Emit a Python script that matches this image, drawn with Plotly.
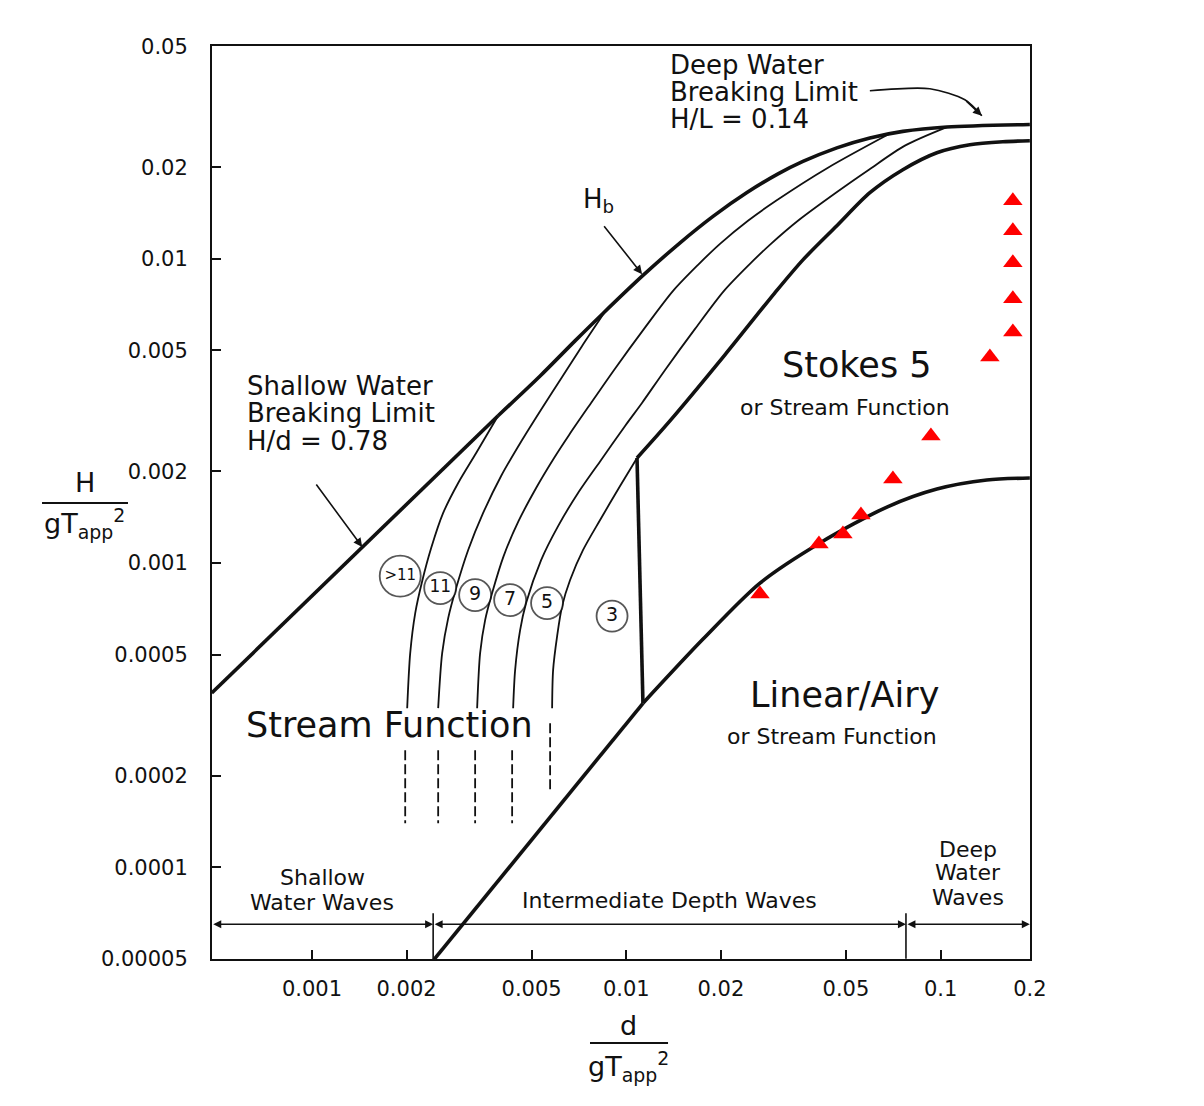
import math
import plotly.graph_objects as go

# ---------------- data ----------------
x_ticks = [0.001, 0.002, 0.005, 0.01, 0.02, 0.05, 0.1, 0.1923]
x_tick_labels = ["0.001", "0.002", "0.005", "0.01", "0.02", "0.05", "0.1", "0.2"]
y_ticks = [0.00005, 0.0001, 0.0002, 0.0005, 0.001, 0.002, 0.005, 0.01, 0.02, 0.05]
y_tick_labels = ["0.00005", "0.0001", "0.0002", "0.0005", "0.001", "0.002",
                 "0.005", "0.01", "0.02", "0.05"]

# shallow water breaking limit H/d = 0.78
shallow_x = [0.00048, 0.00391]
shallow_y = [0.000374, 0.00305]

# breaking height Hb (up to deep water limit H/L = 0.14)
hb_x = [0.00391, 0.00532, 0.00687, 0.00843, 0.0113, 0.01483, 0.01888, 0.02421,
        0.0304, 0.03648, 0.04677, 0.05957, 0.07586, 0.1047, 0.1923]
hb_y = [0.00305, 0.00412, 0.005374, 0.006613, 0.008817, 0.01129, 0.01379, 0.01651,
        0.01901, 0.02089, 0.02316, 0.02496, 0.02624, 0.02713, 0.02765]

# stream function order boundaries
sf_gt11_x = [0.002009, 0.002054, 0.002131, 0.002243, 0.002395, 0.002615, 0.002919, 0.00333, 0.00391]
sf_gt11_y = [0.0003334, 0.0005057, 0.0006849, 0.0008725, 0.00112, 0.001461, 0.001833, 0.0023, 0.00305]

sf_11_x = [0.002521, 0.002596, 0.002713, 0.002876, 0.003141, 0.003505, 0.003998, 0.004662,
           0.0054, 0.00625, 0.007236, 0.008563]
sf_11_y = [0.0003334, 0.0005057, 0.0006593, 0.0008277, 0.001104, 0.001461, 0.001933, 0.002538,
           0.003235, 0.00409, 0.005172, 0.00671]

sf_9_x = [0.003354, 0.003428, 0.003556, 0.003743, 0.004072, 0.004545, 0.005167, 0.005893,
          0.006578, 0.007728, 0.009147, 0.01139, 0.01409, 0.01692, 0.01987, 0.02439, 0.02995,
          0.04382, 0.069]
sf_9_y = [0.0003334, 0.0005057, 0.0006494, 0.0007967, 0.001054, 0.001375, 0.001765, 0.002215,
          0.002637, 0.003359, 0.004313, 0.005885, 0.007846, 0.009556, 0.0112, 0.01334, 0.01551,
          0.01992, 0.0258]

sf_7_x = [0.004366, 0.00443, 0.004595, 0.004801, 0.005359, 0.006069, 0.007024, 0.008317,
          0.009913, 0.01122, 0.01329, 0.01655, 0.02046, 0.02457, 0.02886, 0.03517, 0.04645,
          0.05916, 0.077, 0.1047]
sf_7_y = [0.0003334, 0.0004446, 0.000602, 0.0007386, 0.001023, 0.001323, 0.001699, 0.002182,
          0.002823, 0.003359, 0.004313, 0.005885, 0.007846, 0.009556, 0.0112, 0.01334, 0.01649,
          0.01963, 0.02355, 0.0271]

sf_5_x = [0.005809, 0.005851, 0.006026, 0.00625, 0.006627, 0.007288, 0.008255, 0.009556, 0.01082]
sf_5_y = [0.0003334, 0.0004446, 0.0005752, 0.0007222, 0.0008793, 0.001104, 0.001385, 0.001792, 0.002215]

# dashed continuations of the order boundaries
dash_x = [0.00198, 0.002521, 0.003305, 0.004334, 0.005724]
dash_y_top = [0.0002426, 0.0002426, 0.0002426, 0.0002426, 0.0002976]
dash_y_bottom = [0.0001395, 0.0001395, 0.0001395, 0.0001395, 0.0001751]

# Stokes 5 boundary
stokes_x = [0.01082, 0.01377, 0.0206, 0.0297, 0.03648, 0.04677, 0.05957, 0.07586,
            0.0973, 0.1239, 0.1578, 0.1923]
stokes_y = [0.002215, 0.002932, 0.004833, 0.00773, 0.00992, 0.01284, 0.01649, 0.01963,
            0.02232, 0.02371, 0.02426, 0.02443]

# vertical divider (stream function 3 / Stokes 5)
divider_x = [0.01082, 0.0113]
divider_y = [0.002215, 0.000346]

# Linear / Airy boundary: straight shallow part, then curved part
linear_low_x = [0.002432, 0.0113]
linear_low_y = [0.0000494, 0.000346]
linear_x = [0.0113, 0.01755, 0.02663, 0.04132, 0.06749, 0.09732, 0.1403, 0.1923]
linear_y = [0.000346, 0.0005623, 0.000859, 0.001164, 0.001528, 0.001751, 0.001875, 0.001903]

# red triangle observations
obs_x = [0.1698, 0.1698, 0.1698, 0.1698, 0.1698, 0.1435, 0.09316, 0.07052, 0.0558,
         0.04889, 0.04102, 0.02663]
obs_y = [0.01551, 0.01236, 0.0097, 0.00739, 0.005752, 0.00476, 0.002617, 0.00189, 0.001438,
         0.001245, 0.001155, 0.000791]

# circled stream function orders
order_labels = [">11", "11", "9", "7", "5", "3"]
order_x = [0.001909, 0.002559, 0.003305, 0.004271, 0.005598, 0.009012]
order_y = [0.0009063, 0.0008277, 0.0007847, 0.0007556, 0.0007386, 0.0006694]

# depth regions
region_bounds_x = [0.00048, 0.00243, 0.0776, 0.1923]
region_arrow_y = 0.000065
region_tick_y = [0.0000706, 0.00005]

# leader arrows (tail, head)
shallow_arrow = [(0.001024, 0.001832), (0.001445, 0.00113)]
hb_arrow = [(0.00843, 0.01294), (0.01123, 0.0089)]
deep_arrow_x = [0.05957, 0.09247, 0.1195, 0.1353]
deep_arrow_y = [0.03569, 0.03624, 0.03334, 0.02954]

# ---------------- figure ----------------
FONT = "DejaVu Sans, Verdana, sans-serif"
INK = "#111111"
THICK = 3.6
THIN = 1.8

fig = go.Figure()


def line(x, y, width, dash="solid", shape="spline"):
    fig.add_trace(go.Scatter(x=x, y=y, mode="lines", hoverinfo="skip", showlegend=False,
                             line=dict(color=INK, width=width, dash=dash, shape=shape,
                                       smoothing=0.8 if shape == "spline" else None)))


line(shallow_x, shallow_y, THICK, shape="linear")
line(hb_x, hb_y, THICK)
for xs, ys in [(sf_gt11_x, sf_gt11_y), (sf_11_x, sf_11_y), (sf_9_x, sf_9_y),
               (sf_7_x, sf_7_y), (sf_5_x, sf_5_y)]:
    line(xs, ys, THIN)
for xd, yt, yb in zip(dash_x, dash_y_top, dash_y_bottom):
    line([xd, xd], [yt, yb], THIN, dash="10px,4px", shape="linear")
line(stokes_x, stokes_y, THICK)
line(divider_x, divider_y, THICK, shape="linear")
line(linear_low_x, linear_low_y, THICK, shape="linear")
line(linear_x, linear_y, THICK)

# region divider ticks
for xb in region_bounds_x[1:3]:
    line([xb, xb], region_tick_y, 1.6, shape="linear")

# curved leader for deep water label
line(deep_arrow_x, deep_arrow_y, 1.6)

# circled orders
fig.add_trace(go.Scatter(
    x=order_x, y=order_y, mode="markers+text", text=order_labels,
    textposition="middle center", hoverinfo="skip", showlegend=False,
    textfont=dict(family=FONT, size=[15, 17, 19, 19, 19, 19], color=INK),
    marker=dict(symbol="circle", size=[41, 32, 32, 32, 32, 31], color="white",
                line=dict(color=INK, width=1.8))))

# red triangles
fig.add_trace(go.Scatter(
    x=obs_x, y=obs_y, mode="markers", hoverinfo="skip", showlegend=False,
    marker=dict(symbol="triangle-up", size=17, color="#ff0000", line=dict(width=0))))

lg = math.log10
ann = []


def arrow(head, tail, both=False, size=1.0, width=1.6, head_style=2):
    ann.append(dict(x=lg(head[0]), y=lg(head[1]), ax=lg(tail[0]), ay=lg(tail[1]),
                    xref="x", yref="y", axref="x", ayref="y", text="", showarrow=True,
                    arrowhead=head_style, arrowsize=size, arrowwidth=width, arrowcolor=INK,
                    arrowside="end+start" if both else "end", standoff=0, startstandoff=0))


arrow(shallow_arrow[1], shallow_arrow[0], size=1.1)
arrow(hb_arrow[1], hb_arrow[0], size=1.1)
arrow((deep_arrow_x[-1], deep_arrow_y[-1]), (deep_arrow_x[-2], deep_arrow_y[-2]), size=1.1)
for a, b in zip(region_bounds_x[:-1], region_bounds_x[1:]):
    arrow((b, region_arrow_y), (a, region_arrow_y), both=True, size=1.0, width=1.6)


def text(s, x, y, size, xanchor="center"):
    ann.append(dict(text=s, x=x, y=y, xref="paper", yref="paper", showarrow=False,
                    xanchor=xanchor, yanchor="middle",
                    font=dict(family=FONT, size=size, color=INK)))


# deep water breaking limit label
text("Deep Water", 0.5575, 0.9792, 26, "left")
text("Breaking Limit", 0.5575, 0.9496, 26, "left")
text("H/L = 0.14", 0.5575, 0.9200, 26, "left")
# Hb
text("H<sub>b</sub>", 0.4719, 0.8313, 26)
# shallow water breaking limit label
text("Shallow Water", 0.0403, 0.6276, 26, "left")
text("Breaking Limit", 0.0403, 0.5980, 26, "left")
text("H/d = 0.78", 0.0403, 0.5674, 26, "left")
# regions
text("Stokes 5", 0.7885, 0.6506, 35)
text("or Stream Function", 0.7738, 0.6046, 22)
text("Linear/Airy", 0.7738, 0.2892, 35)
text("or Stream Function", 0.7579, 0.2432, 22)
text("Stream Function", 0.2176, 0.2563, 35)
# depth regions
text("Shallow", 0.1345, 0.0898, 22)
text("Water Waves", 0.1345, 0.0624, 22)
text("Intermediate Depth Waves", 0.5599, 0.0646, 22)
text("Deep", 0.9242, 0.1194, 22)
text("Water", 0.9242, 0.0942, 22)
text("Waves", 0.9242, 0.0679, 22)
# axis titles
text("H", -0.1553, 0.5214, 27)
text("gT<sub>app</sub><sup>2</sup>", -0.1553, 0.4765, 27)
text("d", 0.5086, -0.0723, 27)
text("gT<sub>app</sub><sup>2</sup>", 0.5086, -0.1172, 27)

shapes = [
    dict(type="line", xref="paper", yref="paper", x0=-0.2078, x1=-0.1027, y0=0.4995, y1=0.4995,
         line=dict(color=INK, width=2)),
    dict(type="line", xref="paper", yref="paper", x0=0.4621, x1=0.5575, y0=-0.092, y1=-0.092,
         line=dict(color=INK, width=2)),
]

fig.update_layout(
    width=1204, height=1106, margin=dict(l=212, r=174, t=46, b=147),
    paper_bgcolor="white", plot_bgcolor="white", showlegend=False,
    font=dict(family=FONT, color=INK), annotations=ann, shapes=shapes)

axis_common = dict(type="log", ticks="inside", ticklen=9, tickwidth=1.5, tickcolor=INK,
                   showline=True, linewidth=2, linecolor=INK, mirror=True, showgrid=False,
                   zeroline=False, tickfont=dict(family=FONT, size=21, color=INK))
fig.update_xaxes(range=[-3.318, -0.7155], tickvals=x_ticks, ticktext=x_tick_labels,
                 ticklabelstandoff=10, **axis_common)
fig.update_yaxes(range=[-4.3015, -1.3005], tickvals=y_ticks, ticktext=y_tick_labels,
                 ticklabelstandoff=18, **axis_common)

fig.write_html("out.html")
